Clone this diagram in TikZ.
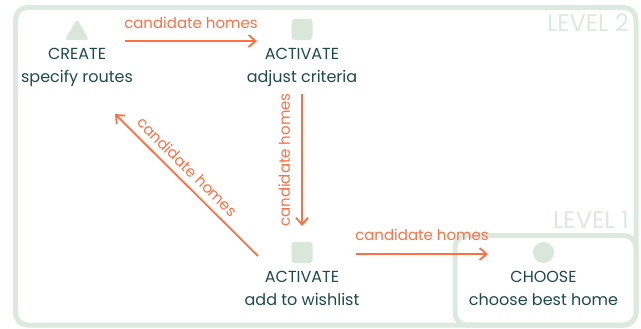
\documentclass[tikz,border=0pt]{standalone}
\usepackage{fontspec}
\setmainfont{Poppins}
\usetikzlibrary{positioning,arrows.meta,shapes.geometric}

\definecolor{levelgreen}{HTML}{DCE9DF}
\definecolor{iconfill}{HTML}{D9E6DA}
\definecolor{flowred}{HTML}{FF6F43}
\definecolor{inkteal}{HTML}{1E4A4C}

\begin{document}
\begin{tikzpicture}[x=1pt,y=-1pt,
    level/.style={draw=levelgreen,line width=5pt,rounded corners=12pt},
    leveltag/.style={text=levelgreen,font=\fontsize{24}{26}\selectfont,anchor=north east,inner sep=0pt},
    icon/.style={fill=iconfill,inner sep=0pt,outer sep=0pt,minimum size=21pt},
    steptext/.style={text=inkteal,align=center,inner sep=0pt,font=\fontsize{16}{23}\selectfont,below=8pt of #1},
    flow/.style={draw=flowred,line width=1.8pt,-{Straight Barb[length=7pt,width=12pt]}},
    flowtag/.style={text=flowred,font=\fontsize{15}{17}\selectfont,inner sep=0pt}
  ]
      \useasboundingbox (0,0) rectangle (641,329);

      % level frames
      \draw[level] (15.5,7.5) rectangle (636,325);
      \draw[level] (455,235.5) rectangle (636,325);
      \node[leveltag] (lvl2) at (629,14) {LEVEL 2};
      \node[leveltag] (lvl1) at (629,211) {LEVEL 1};

      % steps
      \node[icon,regular polygon,regular polygon sides=3,minimum size=28pt,rounded corners=3pt] (create) at (77,33) {};
      \node[icon,rounded corners=3pt] (adjust) at (302,29.5) {};
      \node[icon,rounded corners=3pt] (wish) at (302,252.5) {};
      \node[icon,circle] (choose) at (543.5,252.5) {};

      \node[steptext=create] (create-txt) {CREATE\\specify routes};
      \node[steptext=adjust] (adjust-txt) {ACTIVATE\\adjust criteria};
      \node[steptext=wish] (wish-txt) {ACTIVATE\\add to wishlist};
      \node[steptext=choose] (choose-txt) {CHOOSE\\choose best home};

      % flows
      \coordinate (create-out) at (125,41);
      \coordinate (adjust-in) at (257,41);
      \coordinate (adjust-out) at (302,94);
      \coordinate (wish-in) at (302,226);
      \coordinate (wish-back) at (258,256);
      \coordinate (create-in) at (115,114);
      \coordinate (wish-out) at (356,254);
      \coordinate (choose-in) at (488,254);

      \draw[flow] (create-out) -- node[flowtag,above=11pt] {candidate homes} (adjust-in);
      \draw[flow] (adjust-out) -- node[flowtag,xshift=-11pt,rotate=90,anchor=south] {candidate homes} (wish-in);
      \draw[flow] (wish-back) -- node[flowtag,sloped,anchor=south,xshift=-12pt,yshift=7pt] {candidate homes} (create-in);
      \draw[flow] (wish-out) -- node[flowtag,above=12pt] {candidate homes} (choose-in);
\end{tikzpicture}
\end{document}
